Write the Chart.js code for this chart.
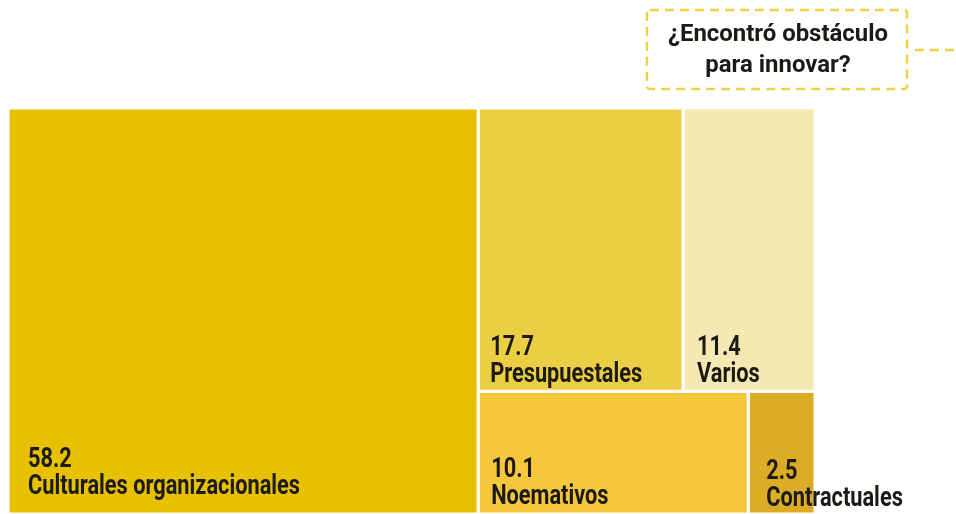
<!DOCTYPE html>
<html>
<head>
<meta charset="utf-8">
<script src="https://cdn.jsdelivr.net/npm/chart.js@4.4.1/dist/chart.umd.min.js"></script>
<style>
  html, body { margin: 0; padding: 0; background: #fff; }
  #wrap { width: 956px; height: 514px; position: relative; }
</style>
</head>
<body>
<div id="wrap"><canvas id="treeChart" width="956" height="514"></canvas></div>
<script>
// datos del treemap (porcentajes)
const labels = ['Culturales organizacionales', 'Presupuestales', 'Varios', 'Noemativos', 'Contractuales'];
const values = [58.2, 17.7, 11.4, 10.1, 2.5];
const colors = ['#E7C000', '#ECCE44', '#F6E8B2', '#F5C73B', '#DDAC26'];
const question = ['¿Encontró obstáculo', 'para innovar?'];

// agrupación: columna grande | (fila [17.7, 11.4] / fila [10.1, 2.5])
const groups = [0, [[1, 2], [3, 4]]];

// estilo de las etiquetas (sangría izquierda y distancia al borde inferior)
const labelInset = [20, 12, 14, 13, 18];
const labelBottom = [20, 9, 9, 10, 8];

const FONT = "Roboto, 'DejaVu Sans', sans-serif";

function sumOf(node) {
  return Array.isArray(node) ? node.reduce((s, n) => s + sumOf(n), 0) : values[node];
}

// slice-and-dice alternando dirección, en unidades de datos (x 0..100, y 0..100)
const cells = [];
function layout(node, x0, y0, x1, y1, horizontal) {
  if (!Array.isArray(node)) {
    cells.push({ i: node, x0, y0, x1, y1 });
    return;
  }
  const total = sumOf(node);
  let pos = horizontal ? x0 : y1;
  node.forEach(child => {
    const f = sumOf(child) / total;
    if (horizontal) {
      const w = (x1 - x0) * f;
      layout(child, pos, y0, pos + w, y1, false);
      pos += w;
    } else {
      const h = (y1 - y0) * f;
      layout(child, x0, pos - h, x1, pos, true);
      pos -= h;
    }
  });
}
layout(groups, 0, 0, 100, 100, true);

const datasets = cells.map(c => ({
  label: labels[c.i],
  data: [
    { x: c.x0, y: c.y0 }, { x: c.x1, y: c.y0 },
    { x: c.x1, y: c.y1 }, { x: c.x0, y: c.y1 }, { x: c.x0, y: c.y0 }
  ],
  showLine: true,
  fill: 'shape',
  backgroundColor: colors[c.i],
  borderColor: '#ffffff',
  borderWidth: 3,
  pointRadius: 0,
  tension: 0
}));

// texto "condensado": escala horizontal
function narrowText(ctx, text, x, y, sx) {
  ctx.save();
  ctx.translate(x, y);
  ctx.scale(sx, 1);
  ctx.fillText(text, 0, 0);
  ctx.restore();
}

const labelPlugin = {
  id: 'cellLabels',
  afterDatasetsDraw(chart) {
    const { ctx, scales: { x, y } } = chart;
    ctx.save();
    ctx.fillStyle = '#1c1a14';
    ctx.textBaseline = 'alphabetic';

    ctx.font = 'bold 27px ' + FONT;
    const sx = 272 / ctx.measureText(labels[0]).width;
    ctx.textAlign = 'left';
    cells.forEach(c => {
      const left = x.getPixelForValue(c.x0);
      const bottom = y.getPixelForValue(c.y0);
      const bx = left + labelInset[c.i];
      const by = bottom - labelBottom[c.i];
      narrowText(ctx, labels[c.i], bx, by, sx);
      narrowText(ctx, values[c.i].toFixed(1), bx, by - 27, sx);
    });

    // recuadro punteado
    ctx.strokeStyle = '#F2CF43';
    ctx.lineWidth = 2.5;
    ctx.setLineDash([9, 6]);
    ctx.beginPath();
    ctx.roundRect(647, 10, 260, 79, 3);
    ctx.stroke();
    ctx.beginPath();
    ctx.moveTo(915, 50);
    ctx.lineTo(956, 50);
    ctx.stroke();
    ctx.setLineDash([]);

    ctx.font = 'bold 24px ' + FONT;
    const qx = 220 / ctx.measureText(question[0]).width;
    ctx.textAlign = 'center';
    narrowText(ctx, question[0], 778, 41, qx);
    narrowText(ctx, question[1], 778, 72, qx);
    ctx.restore();
  }
};

new Chart(document.getElementById('treeChart'), {
  type: 'scatter',
  data: { datasets },
  options: {
    responsive: false,
    animation: false,
    layout: { padding: { left: 8, right: 141, top: 108, bottom: 0 } },
    scales: {
      x: { type: 'linear', min: 0, max: 100, display: false },
      y: { type: 'linear', min: 0, max: 100, display: false }
    },
    plugins: {
      legend: { display: false },
      tooltip: { enabled: false }
    },
    elements: { line: { borderJoinStyle: 'miter' } }
  },
  plugins: [labelPlugin]
});
</script>
</body>
</html>
